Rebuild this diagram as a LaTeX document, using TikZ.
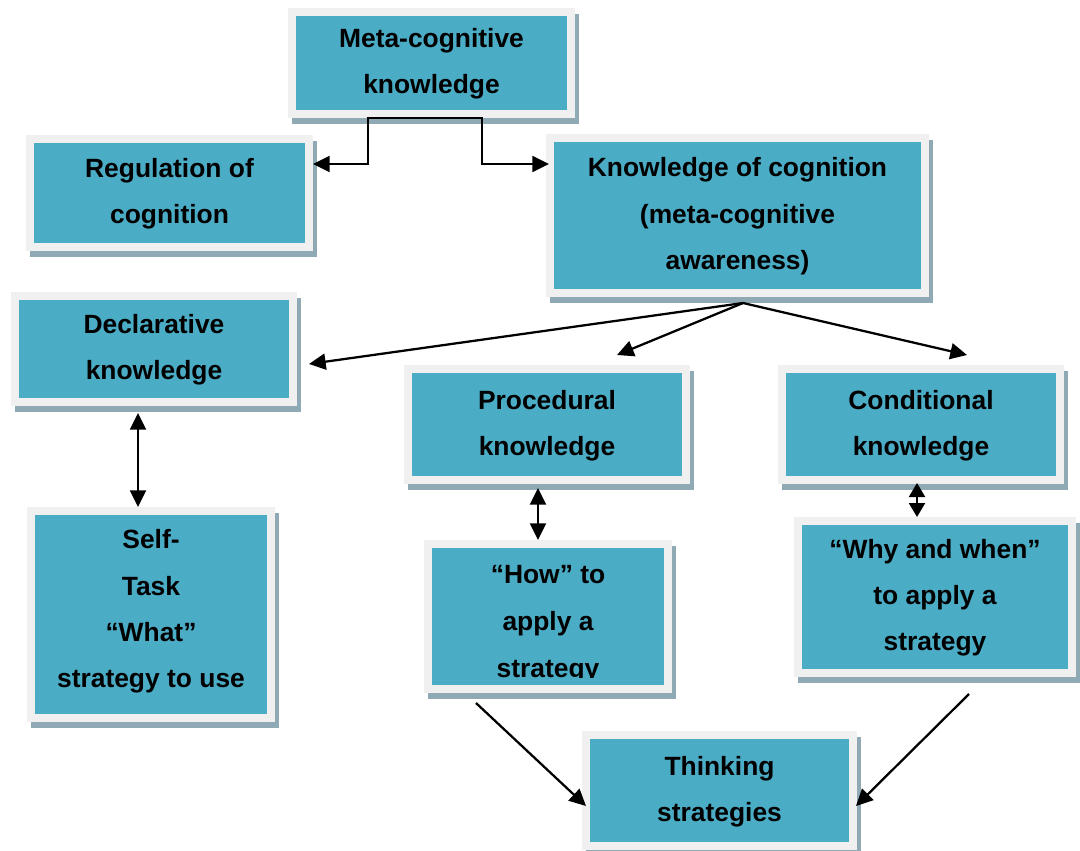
\documentclass[tikz,border=0pt]{standalone}
\usepackage{fontspec}
\setmainfont{Liberation Sans}
\usetikzlibrary{arrows.meta}

\definecolor{cardteal}{RGB}{75,172,198}
\definecolor{cardrim}{RGB}{240,240,240}
\definecolor{cardshade}{RGB}{143,170,180}

\tikzset{
  x=0.75pt, y=-0.75pt,
  cardshadow/.style={fill=cardshade, draw=none},
  cardtext/.style={inner sep=0pt, align=center, text=black, text depth=3pt,
    font=\fontsize{19.8}{34.6}\selectfont\bfseries},
  card/.style={cardtext, fill=cardteal, draw=cardrim, line width=6pt},
  tip/.tip={Triangle[length=12.5pt,width=12pt]},
  shorttip/.tip={Triangle[length=10.5pt,width=12pt]},
  link/.style={line width=1.7pt, -tip},
  dlink/.style={line width=1.7pt, tip-tip},
  shortdlink/.style={line width=1.7pt, shorttip-shorttip},
}

% \diagcard[options]{name}{left}{top}{right}{bottom}{text}: outer edges of the rim, in pixels
\newcommand\diagcard[7][]{%
  \fill[cardshadow] (#3+4,#4+6) rectangle (#5+4,#6+6);
  \node[card, minimum width={(#5-#3-8)*0.75pt}, minimum height={(#6-#4-8)*0.75pt}, #1]
    (#2) at ({(#3+#5)/2},{(#4+#6)/2}) {#7};}

\begin{document}
\begin{tikzpicture}
\useasboundingbox (0,0) rectangle (1080,850);

% boxes
\diagcard{meta}{288}{8}{575}{118}{Meta-cognitive\\knowledge}
\diagcard{reg}{26}{135}{313}{251}{Regulation of\\cognition}
\diagcard{know}{546}{134}{929}{297}{Knowledge of cognition\\(meta-cognitive\\awareness)}
\diagcard{decl}{11}{292}{297}{406}{Declarative\\knowledge}
\diagcard{proc}{404}{365}{690}{484}{Procedural\\knowledge}
\diagcard{cond}{778}{365}{1064}{484}{Conditional\\knowledge}
\diagcard[text depth=9pt]{self}{27}{507}{275}{722}{Self-\\Task\\“What”\\strategy to use}
\diagcard{how}{424}{540}{672}{693}{}
\diagcard{why}{794}{517}{1076}{677}{“Why and when”\\to apply a\\strategy}
\diagcard{think}{582}{731}{857}{850}{Thinking\\strategies}

% text of the "how" box, cut off at its lower line
\begin{scope}
  \clip (432,547) rectangle (664,677);
  \node[cardtext, text depth=0pt, font=\fontsize{19.8}{35.3}\selectfont\bfseries, anchor=north]
    (howtext) at (how.center |- 0,565) {“How” to\\apply a\\strategy};
\end{scope}

% connector end points
\coordinate (mmid) at (425,118);
\coordinate (mleft) at (368,118);
\coordinate (mleftdown) at (368,164);
\coordinate (mright) at (482,118);
\coordinate (mrightdown) at (482,164);
\coordinate (regin) at (313,164);
\coordinate (knowin) at (549,164);

\coordinate (fork) at (743,303);
\coordinate (declin) at (309,364);
\coordinate (procin) at (617,355);
\coordinate (condin) at (967,355);

\coordinate (declout) at (138,413);
\coordinate (selfin) at (138,507);
\coordinate (procout) at (538,488);
\coordinate (howin) at (538,540);
\coordinate (condout) at (917,483);
\coordinate (whyin) at (917,517);

\coordinate (howout) at (476,703);
\coordinate (whyout) at (969,694);
\coordinate (thinkleft) at (586,806);
\coordinate (thinkright) at (856,806);

% connectors
\draw[link] (mmid) -- (mleft) -- (mleftdown) -- (regin);
\draw[link] (mmid) -- (mright) -- (mrightdown) -- (knowin);

\draw[link] (fork) -- (declin);
\draw[link] (fork) -- (procin);
\draw[link] (fork) -- (condin);

\draw[dlink] (declout) -- (selfin);
\draw[dlink] (procout) -- (howin);
\draw[shortdlink] (condout) -- (whyin);

\draw[link] (howout) -- (thinkleft);
\draw[link] (whyout) -- (thinkright);
\end{tikzpicture}
\end{document}
